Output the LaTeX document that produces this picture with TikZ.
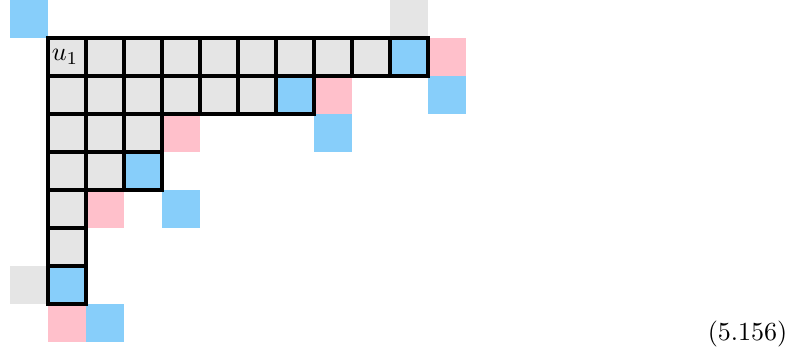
\documentclass[tikz,border=0pt]{standalone}
\usepackage{tikz}
\definecolor{cgray}{HTML}{E5E5E5}
\definecolor{cblue}{HTML}{87CEFA}
\definecolor{cpink}{HTML}{FFC0CB}
\tikzset{
  gcell/.style={fill=cgray},
  bcell/.style={fill=cblue},
  pcell/.style={fill=cpink},
  yframe/.style={draw=black, line width=1.2pt},
}
\begin{document}
\begin{tikzpicture}[x=14.6pt, y=-14.6pt]
\useasboundingbox (-1.263,-1) rectangle (19.737,8.237);
% outside cells
\fill[bcell] (-1,-1) rectangle (0,0);
\fill[gcell] (9,-1) rectangle (10,0);
\fill[pcell] (10,0) rectangle (11,1);
\fill[bcell] (10,1) rectangle (11,2);
\fill[pcell] (7,1) rectangle (8,2);
\fill[bcell] (7,2) rectangle (8,3);
\fill[pcell] (3,2) rectangle (4,3);
\fill[pcell] (1,4) rectangle (2,5);
\fill[bcell] (3,4) rectangle (4,5);
\fill[gcell] (-1,6) rectangle (0,7);
\fill[pcell] (0,7) rectangle (1,8);
\fill[bcell] (1,7) rectangle (2,8);
% diagram cells
\foreach \r/\n/\b in {0/10/9, 1/7/6, 2/3/-1, 3/3/2, 4/1/-1, 5/1/-1, 6/1/0}{
  \foreach \c in {1,...,\n}{
    \pgfmathtruncatemacro{\cc}{\c-1}
    \ifnum\cc=\b
      \fill[bcell] (\cc,\r) rectangle ++(1,1);
    \else
      \fill[gcell] (\cc,\r) rectangle ++(1,1);
    \fi
  }
}
\foreach \r/\n in {0/10, 1/7, 2/3, 3/3, 4/1, 5/1, 6/1}{
  \foreach \c in {1,...,\n}{
    \pgfmathtruncatemacro{\cc}{\c-1}
    \draw[yframe] (\cc,\r) rectangle ++(1,1);
  }
}
\node (u1) at (0.45,0.5) {$u_1$};
\node[anchor=east, inner sep=0pt] (eqn) at (19.47,7.79) {(5.156)};
\end{tikzpicture}
\end{document}
